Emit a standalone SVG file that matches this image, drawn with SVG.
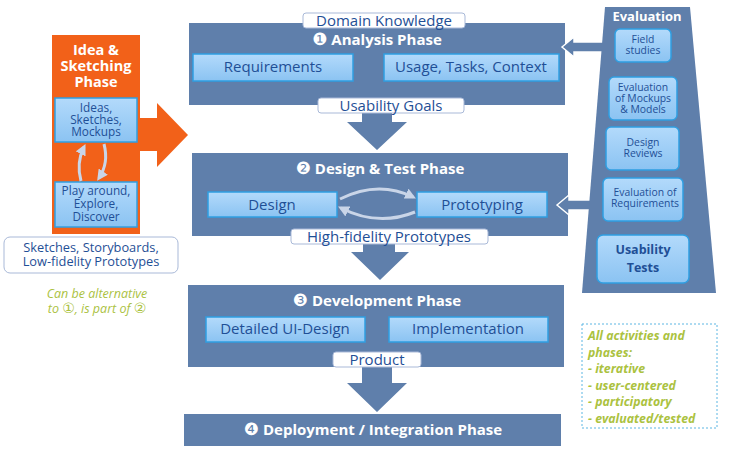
<svg xmlns="http://www.w3.org/2000/svg" width="749" height="451" viewBox="0 0 749 451">
<defs>
<linearGradient id="lb" x1="0" y1="0" x2="0" y2="1">
<stop offset="0" stop-color="#b3dafb"/>
<stop offset="1" stop-color="#8bc3f2"/>
</linearGradient>
<marker id="ah" viewBox="0 0 10 10" refX="7" refY="5" markerWidth="11" markerHeight="11" markerUnits="userSpaceOnUse" orient="auto">
<path d="M0,0 L10,5 L0,10 Z" fill="#c9d5e8"/>
</marker>
<style>
.phase{fill:#5f7fab}
.lbox{fill:url(#lb);stroke:#2f9fe2;stroke-width:1.5}
.label{fill:#ffffff;stroke:#a9b9d8;stroke-width:1}
.t{font-family:"Open Sans","Liberation Sans",sans-serif;text-anchor:middle}
.ph{font-size:15px;font-weight:bold;fill:#ffffff}
.num{font-family:"DejaVu Sans",sans-serif;font-size:17px;font-weight:normal}
.bt{font-size:15px;fill:#1f4f96}
.sm{font-size:11.8px;fill:#1f4f96}
.ev{font-size:10.4px;fill:#1f4f96}
.grn{font-family:"Open Sans","Liberation Sans",sans-serif;fill:#abc23f;font-style:italic}
.curve{fill:none;stroke:#c9d5e8;stroke-width:3;marker-end:url(#ah)}
</style>
</defs>
<rect width="749" height="451" fill="#ffffff"/>

<g id="connectors">
<path class="phase" d="M362,113 L392,113 L392,122 L407,122 L377,150 L347,122 L362,122 Z"/>
<path class="phase" d="M363,244 L395,244 L395,252 L409,252 L380,280 L351,252 L363,252 Z"/>
<path class="phase" d="M362,367 L392,367 L392,383 L407,383 L377,412 L347,383 L362,383 Z"/>
<path d="M140,118 L157,118 L157,103 L188,135 L157,167 L157,151 L140,151 Z" fill="#f26119"/>
</g>

<g id="analysis">
<rect class="phase" x="189" y="23" width="376" height="82"/>
<text class="t ph" x="377" y="45"><tspan class="num">❶</tspan> Analysis Phase</text>
<rect class="lbox" x="193" y="54" width="160" height="27"/>
<text class="t bt" x="273" y="72">Requirements</text>
<rect class="lbox" x="384" y="54" width="175" height="27"/>
<text class="t bt" x="471" y="72">Usage, Tasks, Context</text>
</g>
<g id="domain-knowledge">
<rect class="label" x="303" y="13" width="162" height="15" rx="3"/>
<text class="t bt" x="384" y="26">Domain Knowledge</text>
</g>
<g id="usability-goals">
<rect class="label" x="318" y="98" width="146" height="15" rx="3"/>
<text class="t bt" x="391" y="111">Usability Goals</text>
</g>

<g id="design-test">
<rect class="phase" x="192" y="153" width="376" height="83"/>
<text class="t ph" x="380" y="174"><tspan class="num">❷</tspan> Design &amp; Test Phase</text>
<rect class="lbox" x="208" y="192" width="129" height="25"/>
<text class="t bt" x="272" y="210">Design</text>
<rect class="lbox" x="417" y="192" width="130" height="25"/>
<text class="t bt" x="482" y="210">Prototyping</text>
<path class="curve" d="M340,199 Q378,180 413,197"/>
<path class="curve" d="M415,212 Q378,227 341,208"/>
</g>
<g id="hifi">
<rect class="label" x="291" y="229" width="197" height="15" rx="3"/>
<text class="t bt" x="389" y="242">High-fidelity Prototypes</text>
</g>

<g id="development">
<rect class="phase" x="188" y="285" width="376" height="82"/>
<text class="t ph" x="377" y="306"><tspan class="num">❸</tspan> Development Phase</text>
<rect class="lbox" x="206" y="317" width="159" height="25"/>
<text class="t bt" x="285" y="334">Detailed UI-Design</text>
<rect class="lbox" x="389" y="317" width="159" height="25"/>
<text class="t bt" x="468" y="334">Implementation</text>
</g>
<g id="product">
<rect class="label" x="333" y="352" width="88" height="15" rx="3"/>
<text class="t bt" x="377" y="365">Product</text>
</g>

<g id="deployment">
<rect class="phase" x="184" y="414" width="377" height="32"/>
<text class="t ph" x="373" y="435"><tspan class="num">❹</tspan> Deployment / Integration Phase</text>
</g>

<g id="idea-sketching">
<rect x="52" y="35" width="88" height="199" fill="#f26119"/>
<text class="t" x="96" y="55" font-size="14.5" font-weight="bold" fill="#ffffff"><tspan x="96">Idea &amp;</tspan><tspan x="96" dy="16">Sketching</tspan><tspan x="96" dy="16">Phase</tspan></text>
<rect class="lbox" x="55" y="98" width="82" height="44"/>
<text class="t sm" x="96" y="112"><tspan x="96">Ideas,</tspan><tspan x="96" dy="12">Sketches,</tspan><tspan x="96" dy="12">Mockups</tspan></text>
<rect class="lbox" x="55" y="182" width="82" height="45"/>
<text class="t sm" x="96" y="195"><tspan x="96">Play around,</tspan><tspan x="96" dy="13">Explore,</tspan><tspan x="96" dy="13">Discover</tspan></text>
<path class="curve" d="M81,181 Q76,163 84,147"/>
<path class="curve" d="M104,144 Q109,163 99,178"/>
</g>
<g id="sketches-label">
<rect x="4" y="237" width="174" height="36" rx="6" fill="#ffffff" stroke="#a9b9d8" stroke-width="1"/>
<text class="t" x="91" y="252" font-size="12.8" fill="#1f4f96"><tspan x="91">Sketches, Storyboards,</tspan><tspan x="91" dy="14">Low-fidelity Prototypes</tspan></text>
</g>
<g id="alt-note">
<text class="grn" x="97" y="298" font-size="12.5" text-anchor="middle"><tspan x="97">Can be alternative</tspan><tspan x="97" dy="15">to <tspan font-family="DejaVu Sans" font-style="normal" font-size="14">①</tspan>, is part of <tspan font-family="DejaVu Sans" font-style="normal" font-size="14">②</tspan></tspan></text>
</g>

<g id="eval-arrows">
<path d="M562,47 L574,37 L574,42 L606,42 L606,52 L574,52 L574,57 Z" fill="#5f7fab" stroke="#ffffff" stroke-width="1.5"/>
<path d="M557,205 L569,195 L569,200 L600,200 L600,210 L569,210 L569,215 Z" fill="#5f7fab" stroke="#ffffff" stroke-width="1.5"/>
</g>

<g id="evaluation">
<path d="M605,7 L690,7 L716,293 L582,293 Z" fill="#5f7fab"/>
<text class="t" x="647" y="21" font-size="13" font-weight="bold" fill="#ffffff">Evaluation</text>
<rect class="lbox" x="615" y="29" width="56" height="33" rx="5"/>
<text class="t ev" x="643" y="43"><tspan x="643">Field</tspan><tspan x="643" dy="11">studies</tspan></text>
<rect class="lbox" x="609" y="77" width="68" height="43" rx="5"/>
<text class="t ev" x="643" y="91"><tspan x="643">Evaluation</tspan><tspan x="643" dy="11">of Mockups</tspan><tspan x="643" dy="11">&amp; Models</tspan></text>
<rect class="lbox" x="606" y="127" width="73" height="43" rx="5"/>
<text class="t ev" x="643" y="146"><tspan x="643">Design</tspan><tspan x="643" dy="11">Reviews</tspan></text>
<rect class="lbox" x="603" y="178" width="80" height="43" rx="5"/>
<text class="t ev" x="645" y="196"><tspan x="645">Evaluation of</tspan><tspan x="645" dy="11">Requirements</tspan></text>
<rect class="lbox" x="597" y="235" width="92" height="48" rx="6"/>
<text class="t" x="643" y="254" font-size="12.5" font-weight="bold" fill="#1f4f96"><tspan x="643">Usability</tspan><tspan x="643" dy="18">Tests</tspan></text>
</g>

<g id="note">
<rect x="582" y="324" width="135" height="104" fill="none" stroke="#5cb6e3" stroke-width="1" stroke-dasharray="2,2"/>
<text class="grn" x="588" y="340" font-size="12.3" font-weight="bold"><tspan x="588">All activities and</tspan><tspan x="588" dy="16.5">phases:</tspan><tspan x="588" dy="16.5">- iterative</tspan><tspan x="588" dy="16.5">- user-centered</tspan><tspan x="588" dy="16.5">- participatory</tspan><tspan x="588" dy="16.5">- evaluated/tested</tspan></text>
</g>
</svg>
